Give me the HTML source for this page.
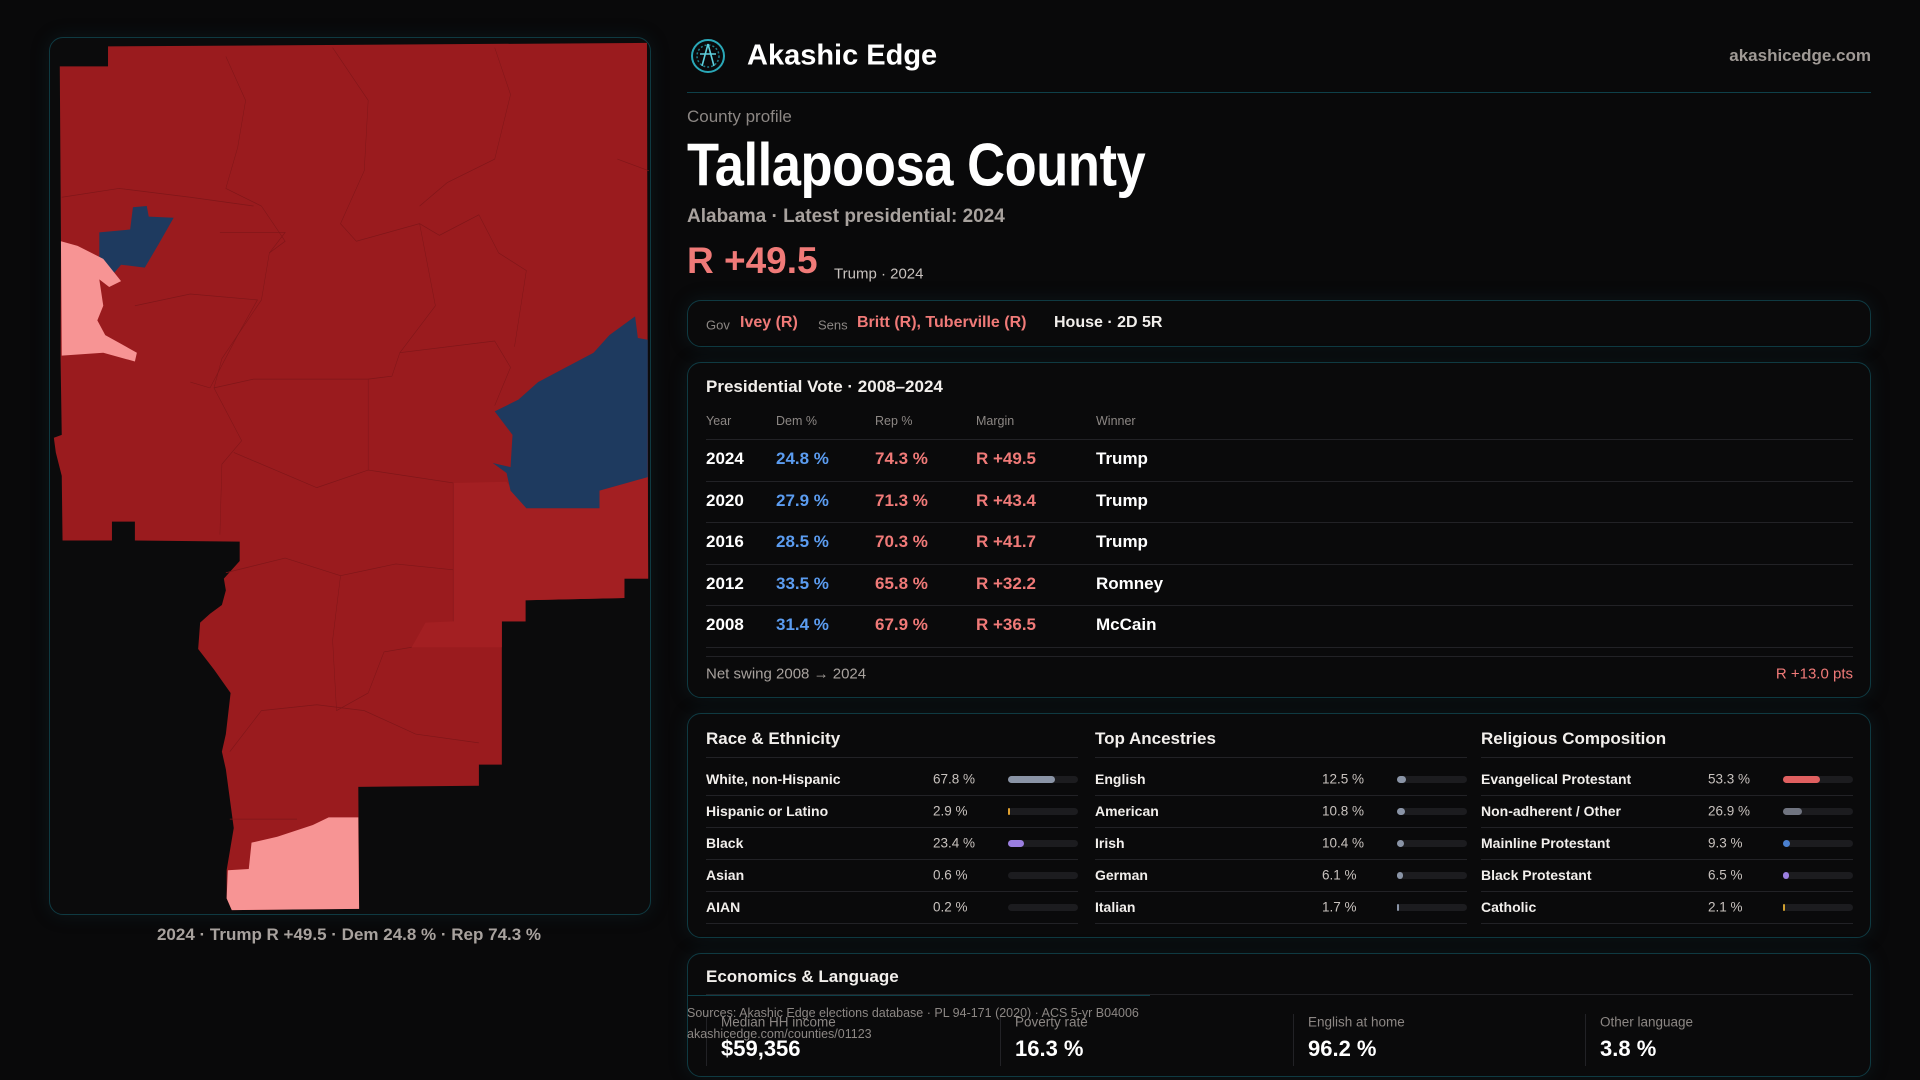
<!DOCTYPE html>
<html><head><meta charset="utf-8"><style>
*{margin:0;padding:0;box-sizing:border-box}
body{width:1920px;height:1080px;background:#09090a;font-family:"Liberation Sans",sans-serif;color:#f2efec;position:relative;overflow:hidden}
.a{position:absolute;white-space:nowrap}
.box{position:absolute;border:1px solid #0f3a42;border-radius:14px;background:#0a0a0b;box-shadow:0 0 18px rgba(20,60,70,0.25)}
.line{position:absolute;height:1px;background:#222226}
.mid{transform:translateY(-50%)}
.b{font-weight:700}
.red{color:#f07a78}.blue{color:#5b9cf0}.grey{color:#8c8784}
</style></head><body>
<div class="box" style="left:49px;top:37px;width:602px;height:878px;background:#0b0b0c"></div>
<svg class="a" style="left:40px;top:30px" width="620" height="920" viewBox="0 0 1568 1568" preserveAspectRatio="none">
<polygon fill="#9a1b1e" points="50,62 172,62 172,28 1535,22 1538,935 1478,935 1478,968 1228,972 1228,1008 1168,1008 1168,1252 1110,1252 1110,1288 805,1290 807,1498 485,1500 472,1480 472,1432 490,1360 478,1300 470,1260 460,1230 470,1200 482,1130 440,1090 400,1055 405,1010 430,995 460,980 470,955 465,935 505,905 505,872 240,870 240,838 182,838 182,870 57,870 55,760 40,720 35,695 55,690 52,560 53,360"/>
<polygon fill="#a31f22" points="1045,772 1180,770 1230,815 1415,815 1415,785 1537,762 1538,935 1478,935 1478,968 1228,972 1228,1008 1168,1008 1168,1052 940,1052 975,1010 1045,1008"/>
<polygon fill="#1e3a5f" points="1150,650 1210,630 1260,600 1330,575 1400,550 1440,520 1505,488 1512,525 1537,528 1537,762 1415,785 1415,815 1230,815 1190,785 1180,755 1145,738 1190,745 1195,690"/>
<polygon fill="#1e3a5f" points="150,345 228,340 235,302 270,300 275,318 338,320 300,365 265,405 205,400 180,420 150,390"/>
<polygon fill="#f79494" points="53,360 95,368 160,390 205,428 175,438 150,425 160,470 145,495 165,520 205,535 245,550 240,565 160,550 55,555"/>
<polygon fill="#f79494" points="475,1432 528,1430 535,1385 600,1375 690,1355 730,1342 805,1342 807,1498 485,1500 472,1480"/>
<g fill="none" stroke="#7f1619" stroke-width="1.2">
<path d="M470,45 L520,120 L500,200 L470,270 L560,300 L620,360 L580,380 L560,460 L460,560 L440,610 L510,700 L460,740 L455,860"/>
<path d="M740,30 L830,120 L820,240 L760,330 L800,360 L960,330 L1010,350"/>
<path d="M1150,30 L1190,110 L1150,220 L1030,260 L960,300"/>
<path d="M55,285 L200,270 L380,285 L540,300"/>
<path d="M455,345 L620,345 L580,380"/>
<path d="M240,470 L380,450 L550,460 L500,520 L430,610 L380,600"/>
<path d="M440,610 L540,595 L830,595 L830,750"/>
<path d="M830,595 L890,590 L910,550 L1150,530 L1190,575 L1150,640"/>
<path d="M960,330 L1000,470 L910,550"/>
<path d="M1010,350 L1110,315 L1160,380 L1230,410 L1200,540"/>
<path d="M1460,220 L1540,240"/>
<path d="M490,720 L700,780 L830,750 L1045,772 L1045,1008"/>
<path d="M470,925 L620,900 L760,930 L900,910 L1045,920"/>
<path d="M760,930 L740,1040 L750,1160 L830,1130 L870,1060 L940,1052"/>
<path d="M480,1230 L560,1160 L700,1150 L820,1160 L950,1200 L1110,1215"/>
<path d="M480,1345 L650,1345"/>
</g>
</svg>
<div class="a mid b" style="left:349px;top:935px;transform:translate(-50%,-50%);font-size:17px;color:#a8a29e">2024 · Trump R +49.5 · Dem 24.8 % · Rep 74.3 %</div>

<svg class="a" style="left:690px;top:38px" width="36" height="36" viewBox="0 0 36 36"><circle cx="18" cy="18" r="16" fill="none" stroke="#2aa8b8" stroke-width="2"/><circle cx="18" cy="18" r="11" fill="none" stroke="#1f7f8c" stroke-width="1.5" stroke-dasharray="2 2"/><path d="M18 6 L12 28 M18 6 L24 28 M10 16 L26 16" stroke="#5fd0dc" stroke-width="1.6" fill="none"/></svg>
<div class="a mid b" style="left:747px;top:56px;font-size:29px;color:#fff">Akashic Edge</div>
<div class="a mid b" style="right:49px;top:56px;font-size:17px;color:#a09a96">akashicedge.com</div>
<div class="line" style="left:687px;top:92px;width:1184px;background:#0e4049"></div>
<div class="a mid" style="left:687px;top:117px;font-size:17px;color:#8c8784">County profile</div>
<div class="a mid b" style="left:687px;top:165px;font-size:60px;color:#fff;transform:translateY(-50%) scaleX(0.875);transform-origin:left center;letter-spacing:-0.5px">Tallapoosa County</div>
<div class="a mid b" style="left:687px;top:217px;font-size:19px;color:#a8a29e">Alabama · Latest presidential: 2024</div>
<div class="a mid b red" style="left:687px;top:261px;font-size:37px">R +49.5</div>
<div class="a mid" style="left:834px;top:274px;font-size:15px;color:#c8c2be">Trump · 2024</div>

<div class="box" style="left:687px;top:300px;width:1184px;height:47px"></div>
<div class="a mid grey" style="left:706px;top:325px;font-size:13px">Gov</div>
<div class="a mid b red" style="left:740px;top:323px;font-size:16px">Ivey (R)</div>
<div class="a mid grey" style="left:818px;top:325px;font-size:13px">Sens</div>
<div class="a mid b red" style="left:857px;top:323px;font-size:16px">Britt (R), Tuberville (R)</div>
<div class="a mid b" style="left:1054px;top:323px;font-size:16px">House · 2D 5R</div>

<div class="box" style="left:687px;top:362px;width:1184px;height:336px"></div>
<div class="a mid b" style="left:706px;top:387px;font-size:17px">Presidential Vote · 2008–2024</div>
<div id="pres"></div>
<div class="a mid" style="left:706px;top:674px;font-size:15px;color:#a8a29e">Net swing 2008 → 2024</div>
<div class="a mid red" style="right:67px;top:674px;font-size:15px">R +13.0 pts</div>

<div class="box" style="left:687px;top:713px;width:1184px;height:225px"></div>
<div id="demo"></div>

<div class="box" style="left:687px;top:953px;width:1184px;height:124px"></div>
<div class="a mid b" style="left:706px;top:977px;font-size:17px">Economics &amp; Language</div>
<div class="line" style="left:706px;top:994px;width:1147px"></div>
<div class="line" style="left:687px;top:995px;width:463px;background:#0e4049"></div>
<div id="econ"></div>
<div class="a mid" style="left:687px;top:1013px;font-size:12.5px;color:#8c8784">Sources: Akashic Edge elections database · PL 94-171 (2020) · ACS 5-yr B04006</div>
<div class="a mid" style="left:687px;top:1034px;font-size:12.5px;color:#8c8784">akashicedge.com/counties/01123</div>

<script>
const presYears=["2024","2020","2016","2012","2008"];
const presDem=[24.8,27.9,28.5,33.5,31.4];
const presRep=[74.3,71.3,70.3,65.8,67.9];
const presMargin=[49.5,43.4,41.7,32.2,36.5];
const presWinner=["Trump","Trump","Trump","Romney","McCain"];
const presHeaders=["Year","Dem %","Rep %","Margin","Winner"];

const raceLabels=["White, non-Hispanic","Hispanic or Latino","Black","Asian","AIAN"];
const raceValues=[67.8,2.9,23.4,0.6,0.2];
const ancLabels=["English","American","Irish","German","Italian"];
const ancValues=[12.5,10.8,10.4,6.1,1.7];
const relLabels=["Evangelical Protestant","Non-adherent / Other","Mainline Protestant","Black Protestant","Catholic"];
const relValues=[53.3,26.9,9.3,6.5,2.1];

const econLabels=["Median HH income","Poverty rate","English at home","Other language"];
const econValues=["$59,356","16.3 %","96.2 %","3.8 %"];

function mk(parent,cls,style,text){const d=document.createElement('div');d.className=cls;d.style.cssText=style;if(text!==undefined)d.textContent=text;parent.appendChild(d);return d;}

const pres=document.getElementById('pres');
const colX=[706,776,875,976,1096];
const rowY=i=>459+i*41.5;
presHeaders.forEach((h,j)=>{const e=mk(pres,'a mid','left:'+colX[j]+'px;top:421px;font-size:12.5px;color:#8c8784',h);

});
for(let k=0;k<6;k++){const l=mk(pres,'line','left:706px;width:1147px;top:'+(439+k*41.5)+'px');

}
const l2=mk(pres,'line','left:706px;width:1147px;top:656px');


presYears.forEach((y,i)=>{
 const m=presMargin[i];
 const cells=[[y,'#fff'],[presDem[i].toFixed(1)+' %','#5b9cf0'],[presRep[i].toFixed(1)+' %','#f07a78'],[(m>=0?'R +':'D +')+Math.abs(m).toFixed(1),'#f07a78'],[presWinner[i],'#fff']];
 cells.forEach((c,j)=>{const e=mk(pres,'a mid b','left:'+colX[j]+'px;top:'+rowY(i)+'px;font-size:17px;color:'+c[1],c[0]);
 
 });
});

const demo=document.getElementById('demo');
const groups=[["Race & Ethnicity",raceLabels,raceValues,["#8a94a6","#e0a030","#9b7fe0","#8a94a6","#8a94a6"],706],
 ["Top Ancestries",ancLabels,ancValues,["#8a94a6","#8a94a6","#8a94a6","#8a94a6","#8a94a6"],1095],
 ["Religious Composition",relLabels,relValues,["#e06060","#707480","#4a80d0","#9b7fe0","#d0a030"],1481]];
groups.forEach(g=>{
 const x=g[4];
 const t=mk(demo,'a mid b','left:'+x+'px;top:739px;font-size:17px',g[0]);
 
 
 const ln=mk(demo,'line','left:'+x+'px;width:372px;top:757px');
 
 
 g[1].forEach((lab,i)=>{
  const y=779+i*32;
  const a=mk(demo,'a mid b','left:'+x+'px;top:'+y+'px;font-size:14px',lab);
  
  
  const p=mk(demo,'a mid','left:'+(x+227)+'px;top:'+y+'px;font-size:13.5px;color:#c8c2be',g[2][i].toFixed(1)+' %');
  
  
  const tr=mk(demo,'a','left:'+(x+302)+'px;top:'+(y-3)+'px;width:70px;height:7px;border-radius:4px;background:#1c1c1f');
  
  
  const w=g[2][i]>=1?Math.max(g[2][i]*0.7,g[2][i]>=5?6:2):0;
  const f=mk(tr,'a','left:0;top:0;height:7px;border-radius:4px;width:'+w+'px;background:'+g[3][i]);
  
  
  const d=mk(demo,'line','left:'+x+'px;width:372px;top:'+(y+16)+'px');
  
  
 });
});

const econ=document.getElementById('econ');
const ex=[706,1000,1293,1585];
econLabels.forEach((lab,i)=>{
 const s=mk(econ,'a','left:'+ex[i]+'px;top:1014px;width:1px;height:52px;background:#222226');
 
 
 const a=mk(econ,'a mid','left:'+(ex[i]+15)+'px;top:1022px;font-size:13.5px;color:#8c8784',lab);
 
 
 const v=mk(econ,'a mid b','left:'+(ex[i]+15)+'px;top:1049px;font-size:22px;color:#fff',econValues[i]);
 
 
});
</script>
</body></html>
